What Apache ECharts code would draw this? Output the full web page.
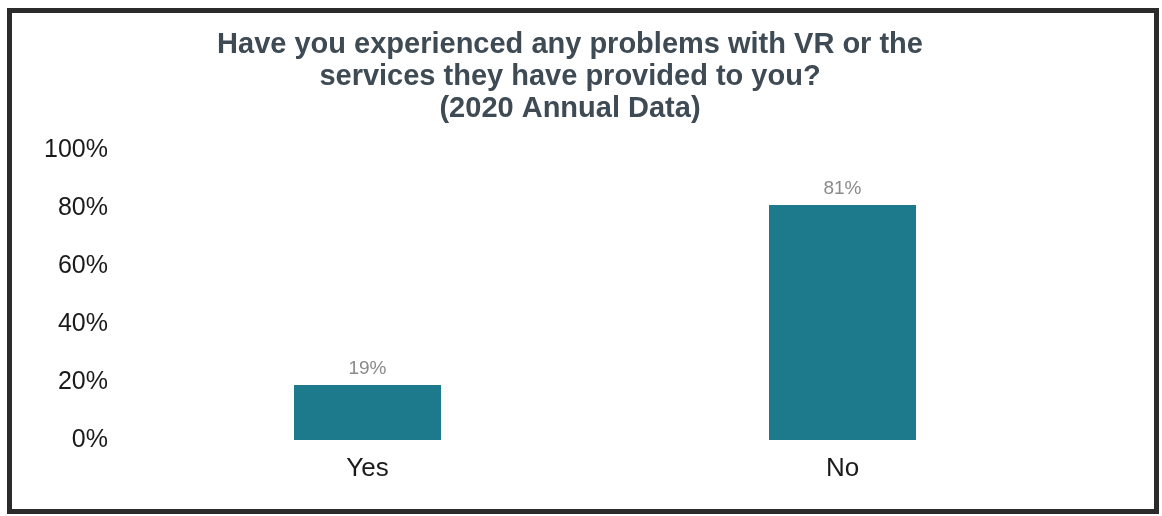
<!DOCTYPE html>
<html><head><meta charset="utf-8">
<script src="https://cdn.jsdelivr.net/npm/echarts@6/dist/echarts.min.js"></script>
<style>html,body{margin:0;padding:0;background:#fff}#c{width:1162px;height:516px}</style>
</head><body><div id="c"></div>
<script>
const categories = ['Yes', 'No'];
const values = [19, 81];
const yTicks = [0, 20, 40, 60, 80, 100];
const titleText = 'Have you experienced any problems with VR or the\nservices they have provided to you?\n(2020 Annual Data)';

const chart = echarts.init(document.getElementById('c'));
chart.setOption({
  animation: false,
  backgroundColor: '#fff',
  graphic: [{
    type: 'rect', shape: {x: 9.5, y: 10.5, width: 1147, height: 501},
    style: {fill: 'none', stroke: '#2b2b2b', lineWidth: 5}, z: 100
  }],
  title: {
    text: titleText, left: 565, top: 24, textAlign: 'center',
    textStyle: {fontFamily: 'Liberation Sans, Arial, sans-serif', fontSize: 29, fontWeight: 'bold', color: '#3e4a54', lineHeight: 32}
  },
  grid: {left: 130, right: 82, top: 150, bottom: 76},
  xAxis: {
    type: 'category', data: categories,
    axisLine: {show: false}, axisTick: {show: false},
    axisLabel: {fontFamily: 'Liberation Sans, Arial, sans-serif', fontSize: 26, color: '#1a1a1a', margin: 16}
  },
  yAxis: {
    type: 'value', min: yTicks[0], max: yTicks[yTicks.length - 1], interval: yTicks[1] - yTicks[0],
    splitLine: {show: false}, axisLine: {show: false}, axisTick: {show: false},
    axisLabel: {formatter: '{value}%', fontFamily: 'Liberation Sans, Arial, sans-serif', fontSize: 25, color: '#1a1a1a', margin: 22}
  },
  series: [{
    type: 'bar', data: values, barWidth: 147,
    itemStyle: {color: '#1d7a8c'},
    label: {show: true, position: 'top', formatter: '{c}%', distance: 7,
      fontFamily: 'Liberation Sans, Arial, sans-serif', fontSize: 19, color: '#8a8a8a'}
  }]
});
</script></body></html>
